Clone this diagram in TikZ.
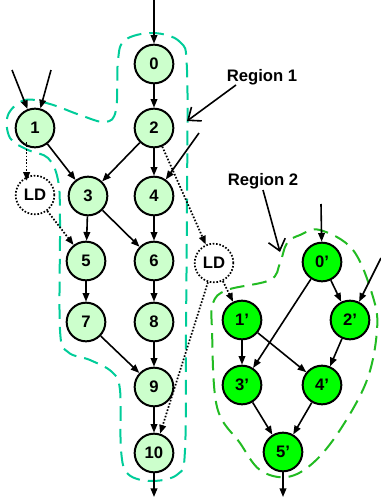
\documentclass[tikz,border=0pt]{standalone}
\usepackage{fontspec}
\setmainfont{Liberation Sans}
\usetikzlibrary{arrows.meta}
\definecolor{paleg}{HTML}{CCFFCC}
\definecolor{brightg}{HTML}{00FF00}
\definecolor{tealdash}{HTML}{00CC99}
\definecolor{greendash}{HTML}{22BB22}

\begin{document}
\begin{tikzpicture}[x=0.75pt,y=-0.75pt,
  op/.style={circle, draw, line width=1.5pt, minimum size=29pt, inner sep=0pt,
             font=\fontsize{12.5}{14}\selectfont\bfseries},
  opA/.style={op, fill=paleg},
  opB/.style={op, fill=brightg},
  ldnode/.style={op, dash pattern=on 1.2pt off 1.3pt, line width=1.3pt, fill=white},
  flow/.style={-{Triangle[length=6.5pt,width=5pt]}, line width=1.2pt},
  ldflow/.style={flow, line width=1.3pt, dash pattern=on 1.2pt off 1.3pt},
  region/.style={line width=1.5pt, dash pattern=on 11pt off 6pt},
  pointer/.style={-{Straight Barb[length=8pt,width=13pt]}, line width=1.2pt},
  lbl/.style={font=\fontsize{12.5}{14}\selectfont\bfseries}
]
\useasboundingbox (0,0) rectangle (381,500);

% region outlines
\draw[region, tealdash] plot[smooth cycle, tension=0.6] coordinates {
  (153,33) (180,42) (187,70) (187,200) (186,330) (185,450) (178,474)
  (152,481) (128,474) (121,450) (120,390) (112,372) (90,360) (68,352)
  (60,330) (60,220) (58,180) (48,158) (28,150) (10,138) (8,115) (25,100)
  (50,104) (80,115) (105,122) (116,110) (118,60) (125,40)};
\draw[region, greendash] plot[smooth cycle, tension=0.6] coordinates {
  (320,230) (353,250) (373,297) (377,330) (367,380) (340,430) (313,463)
  (287,477) (260,470) (240,443) (217,407) (212,330) (213,303) (227,290)
  (270,280) (280,263) (287,243) (300,235)};

% region 1 operations
\node[opA] (n0)  at (154,64)  {0};
\node[opA] (n1)  at (35,128)  {1};
\node[opA] (n2)  at (154,128) {2};
\node[opA] (n3)  at (88,196)  {3};
\node[opA] (n4)  at (154,196) {4};
\node[opA] (n5)  at (86,261)  {5};
\node[opA] (n6)  at (154,261) {6};
\node[opA] (n7)  at (86,322)  {7};
\node[opA] (n8)  at (154,322) {8};
\node[opA] (n9)  at (154,387) {9};
\node[opA] (n10) at (154,453) {10};
\node[ldnode] (ldA) at (35,195)  {LD};
\node[ldnode] (ldB) at (214,263) {LD};

% region 2 operations
\node[opB] (m0) at (322,262) {0’};
\node[opB] (m1) at (242,320) {1’};
\node[opB] (m2) at (350,320) {2’};
\node[opB] (m3) at (242,385) {3’};
\node[opB] (m4) at (322,385) {4’};
\node[opB] (m5) at (283,452) {5’};

% free ends of external edges
\coordinate (in0)  at (154,0);
\coordinate (in1a) at (12,70);
\coordinate (in1b) at (51,70);
\coordinate (in4)  at (199,133);
\coordinate (out10) at (154,497);
\coordinate (inm0) at (321,204);
\coordinate (inm2) at (381,258);
\coordinate (outm5) at (283,497);

% labels
\node[lbl] (r1) at (262,77)  {Region 1};
\node[lbl] (r2) at (263,181) {Region 2};
\coordinate (r1tip) at (187,121);
\coordinate (r2tip) at (280,252);
\draw[pointer] (236,85) -- (r1tip);
\draw[pointer] (263,190) -- (r2tip);

% data flow, region 1
\draw[flow] (in0) -- (n0);
\draw[flow] (in1a) -- (n1);
\draw[flow] (in1b) -- (n1);
\draw[flow] (n0) -- (n2);
\draw[flow] (n1) -- (n3);
\draw[flow] (n2) -- (n3);
\draw[flow] (n2) -- (n4);
\draw[flow] (in4) -- (n4);
\draw[flow] (n3) -- (n5);
\draw[flow] (n3) -- (n6);
\draw[flow] (n4) -- (n6);
\draw[flow] (n5) -- (n7);
\draw[flow] (n6) -- (n8);
\draw[flow] (n7) -- (n9);
\draw[flow] (n8) -- (n9);
\draw[flow] (n9) -- (n10);
\draw[flow] (n10) -- (out10);

% loads
\draw[ldflow] (n1.south west) ++(6,0) coordinate (ldAsrc) -- (ldA.north west -| ldAsrc);
\draw[ldflow] (ldA) -- (n5);
\draw[ldflow] (n2) -- (ldB);
\draw[ldflow] (ldB) -- (n10);
\draw[ldflow] (ldB) -- (m1);

% data flow, region 2
\draw[flow] (inm0) -- (m0);
\draw[flow] (m0) -- (m2);
\draw[flow] (m0) -- (m3);
\draw[flow] (inm2) -- (m2);
\draw[flow] (m1) -- (m3);
\draw[flow] (m1) -- (m4);
\draw[flow] (m2) -- (m4);
\draw[flow] (m3) -- (m5);
\draw[flow] (m4) -- (m5);
\draw[flow] (m5) -- (outm5);
\end{tikzpicture}
\end{document}
